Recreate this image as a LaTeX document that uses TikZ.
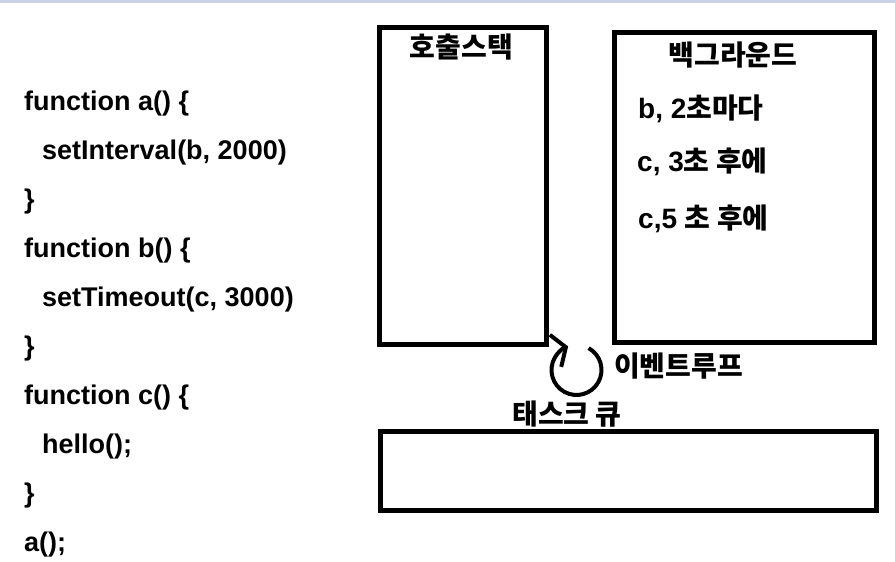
\documentclass[tikz,border=0pt]{standalone}
\usepackage{fontspec}
\setmainfont{Liberation Sans}
\newfontfamily\kr{Noto Sans CJK KR}
\usepackage{tikz}
\usetikzlibrary{arrows.meta, positioning, calc}
\definecolor{topband}{RGB}{200,210,226}
\tikzset{
    box/.style={draw, line width=5pt, inner sep=0pt},
    codeline/.style={anchor=base west, inner sep=0pt, font=\fontsize{27}{27}\selectfont\bfseries},
    kor/.style={inner sep=0pt, font=\fontsize{28}{28}\selectfont\bfseries},
    looparrow/.style={-{Straight Barb[length=11pt 0 0, width=34pt 0 0]}, line width=4pt}
}

\begin{document}
\begin{tikzpicture}[x=1pt, y=1pt]
    \useasboundingbox (0,0) rectangle (895,562);
    \fill[topband] (0,559) rectangle (895,562);
    % Code
    \node[codeline] (l0) at (24,451) {function a() \{};
    \node[codeline] (l1) at (42,402.1) {setInterval(b, 2000)};
    \node[codeline] (l2) at (24,353.2) {\}};
    \node[codeline] (l3) at (24,304.3) {function b() \{};
    \node[codeline] (l4) at (42,255.4) {setTimeout(c, 3000)};
    \node[codeline] (l5) at (24,206.5) {\}};
    \node[codeline] (l6) at (24,157.6) {function c() \{};
    \node[codeline] (l7) at (42,108.7) {hello();};
    \node[codeline] (l8) at (24,59.8) {\}};
    \node[codeline] (l9) at (24,10.9) {a();};
    % Boxes
    \node[box, minimum width=167, minimum height=317.5] (stack) at (463,375.75) {};
    \node[box, minimum width=259.5, minimum height=310.5] (bg) at (744.25,374.25) {};
    \node[box, minimum width=495.5, minimum height=78.5] (queue) at (628.25,90.75) {};
    % Titles
    \node[kor] (stacktitle) at (461.5,514.5) {\kr 호출스택};
    \node[kor] (bgtitle) at (733,507) {\kr 백그라운드};
    \node[kor] (queuetitle) at (567,147.5) {\kr 태스크 큐};
    % Timers
    \node[kor, anchor=west] (tb) at (638,453) {b, 2{\kr 초마다}};
    \node[kor, anchor=west] (tc3) at (637,400.5) {c, 3{\kr 초 후에}};
    \node[kor, anchor=west] (tc5) at (638,343) {c,5 {\kr 초 후에}};
    % Event loop
    \coordinate (loopc) at (576.5,192);
    \draw[looparrow] ($(loopc)+(61:25)$) arc[start angle=61, end angle=-250.5, radius=25];
    \node[kor, anchor=west] (looptitle) at (614,195.5) {\kr 이벤트루프};
\end{tikzpicture}
\end{document}
